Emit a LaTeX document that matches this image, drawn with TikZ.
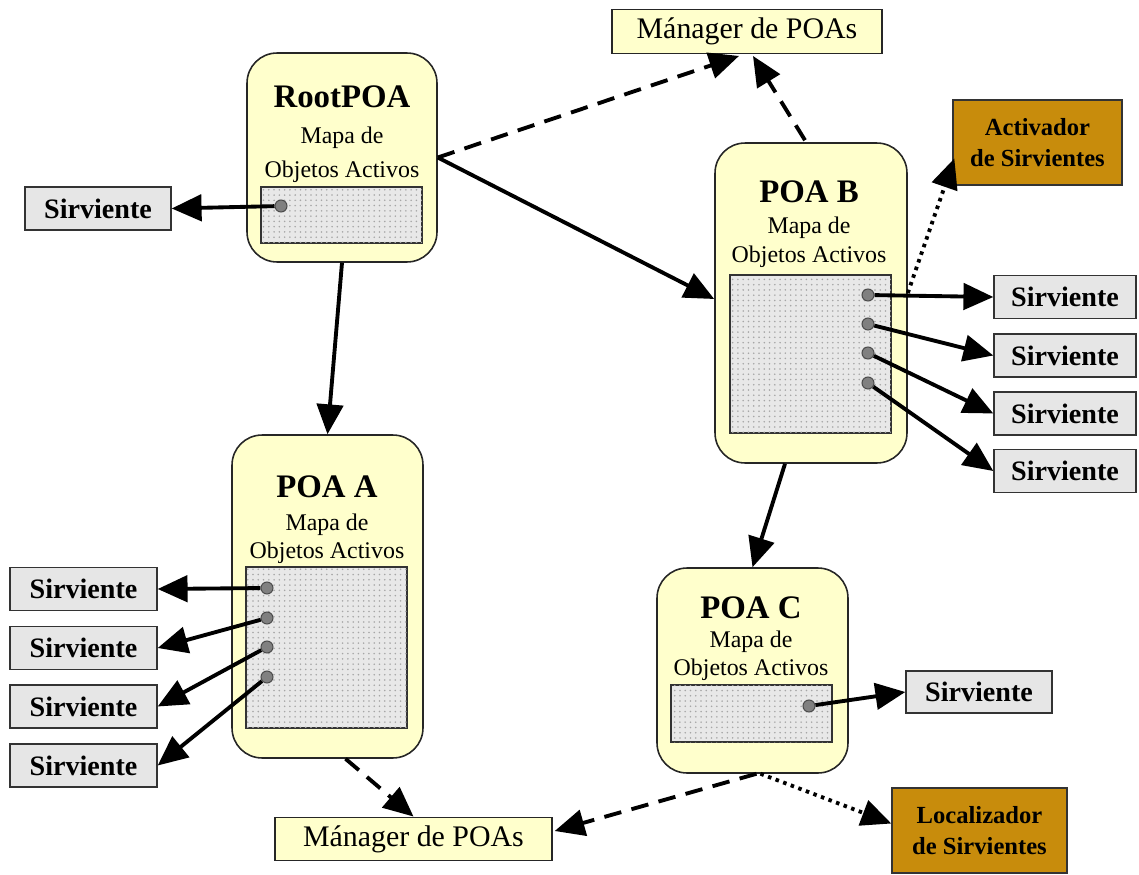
\documentclass[tikz,border=0pt]{standalone}
\usepackage{fontspec}
\setmainfont{Liberation Serif}
\usetikzlibrary{arrows.meta,calc,patterns}
\definecolor{poafill}{RGB}{255,255,204}
\definecolor{srvfill}{RGB}{230,230,230}
\definecolor{goldfill}{RGB}{200,140,12}
\definecolor{mapfill}{RGB}{232,232,232}
\tikzset{
  poa/.style={draw=black!85, line width=0.9pt, fill=poafill, rounded corners=0.6cm, inner sep=0pt},
  mapbox/.style={draw=black!80, line width=0.8pt, fill=mapfill, inner sep=0pt,
    postaction={pattern=dots, pattern color=gray!70}},
  srv/.style={draw=black!80, line width=0.8pt, fill=srvfill, inner sep=0pt,
    minimum height=0.86cm, font=\bfseries\fontsize{16}{19}\selectfont},
  mgr/.style={draw=black!85, line width=0.8pt, fill=poafill, inner sep=0pt,
    minimum height=0.87cm, font=\fontsize{17}{20}\selectfont},
  gold/.style={draw=black!80, line width=0.8pt, fill=goldfill, inner sep=0pt,
    minimum height=1.7cm, align=center, font=\bfseries\fontsize{14}{17.5}\selectfont},
  title/.style={inner sep=0pt, font=\bfseries\fontsize{18.7}{22}\selectfont},
  maptext/.style={inner sep=0pt, font=\fontsize{13.6}{16}\selectfont},
  slot/.style={circle, draw=black!70, line width=0.6pt, fill=gray, inner sep=0pt, minimum size=0.24cm},
  conn/.style={line width=2.2pt, -{Triangle[length=17pt,width=15pt]}},
  dashconn/.style={conn, dash pattern=on 10pt off 6pt},
  dotconn/.style={conn, line width=2.2pt, dash pattern=on 2pt off 2.6pt}
}
\begin{document}
\begin{tikzpicture}[x=0.02cm, y=-0.02cm]
\useasboundingbox (0,0) rectangle (1139,875);

% ---- RootPOA ----
\node[poa, minimum width=3.8cm, minimum height=4.18cm] (root) at (342,157.5) {};
\node[title] (rootT) at (342,97) {RootPOA};
\node[maptext] (rootM1) at (342,138) {Mapa de};
\node[maptext] (rootM2) at (342,172) {Objetos Activos};
\node[mapbox, minimum width=3.22cm, minimum height=1.12cm] (rootMap) at (341.5,215) {};
\node[slot] (dR) at (281,206) {};
\node[srv, minimum width=2.92cm] (srvR) at (98,208.5) {Sirviente};

% ---- POA B ----
\node[poa, minimum width=3.84cm, minimum height=6.4cm] (poaB) at (811,303) {};
\node[title] (poaBT) at (809,192) {POA B};
\node[maptext] (poaBM1) at (809,228) {Mapa de};
\node[maptext] (poaBM2) at (809,257) {Objetos Activos};
\node[mapbox, minimum width=3.22cm, minimum height=3.16cm] (poaBMap) at (810.5,354) {};
\node[slot] (dB1) at (868,295) {};
\node[slot] (dB2) at (868,324) {};
\node[slot] (dB3) at (868,353) {};
\node[slot] (dB4) at (868,383) {};
\node[srv, minimum width=2.84cm] (srvB1) at (1065,297) {Sirviente};
\node[srv, minimum width=2.84cm] (srvB2) at (1065,355.5) {Sirviente};
\node[srv, minimum width=2.84cm] (srvB3) at (1065,413.5) {Sirviente};
\node[srv, minimum width=2.84cm] (srvB4) at (1065,471) {Sirviente};

% ---- POA A ----
\node[poa, minimum width=3.82cm, minimum height=6.46cm] (poaA) at (327.5,596.5) {};
\node[title] (poaAT) at (327,487) {POA A};
\node[maptext] (poaAM1) at (327,525) {Mapa de};
\node[maptext] (poaAM2) at (327,553) {Objetos Activos};
\node[mapbox, minimum width=3.22cm, minimum height=3.22cm] (poaAMap) at (326.5,647.5) {};
\node[slot] (dA1) at (267,588) {};
\node[slot] (dA2) at (267,618) {};
\node[slot] (dA3) at (267,647) {};
\node[slot] (dA4) at (267,677) {};
\node[srv, minimum width=2.94cm] (srvA1) at (83.5,589) {Sirviente};
\node[srv, minimum width=2.94cm] (srvA2) at (83.5,648) {Sirviente};
\node[srv, minimum width=2.94cm] (srvA3) at (83.5,706.5) {Sirviente};
\node[srv, minimum width=2.94cm] (srvA4) at (83.5,765.5) {Sirviente};

% ---- POA C ----
\node[poa, minimum width=3.82cm, minimum height=4.1cm] (poaC) at (752.5,670.5) {};
\node[title] (poaCT) at (751,608) {POA C};
\node[maptext] (poaCM1) at (751,642) {Mapa de};
\node[maptext] (poaCM2) at (751,670) {Objetos Activos};
\node[mapbox, minimum width=3.22cm, minimum height=1.14cm] (poaCMap) at (751.5,713.5) {};
\node[slot] (dC) at (809,706) {};
\node[srv, minimum width=2.92cm, minimum height=0.84cm] (srvC) at (979,692) {Sirviente};

% ---- managers and helpers ----
\node[mgr, minimum width=5.4cm] (mgrTop) at (747,31.5) {Mánager de POAs};
\node[mgr, minimum width=5.54cm] (mgrBot) at (413.5,839) {Mánager de POAs};
\node[gold, minimum width=3.38cm] (act) at (1037.5,142.5) {Activador\\de Sirvientes};
\node[gold, minimum width=3.5cm] (loc) at (979.5,830.5) {Localizador\\de Sirvientes};

% ---- connectors ----
\draw[conn] (dR) -- (srvR.east);
\draw[conn] (root.east) -- ($(poaB.west)+(0,-4)$);
\draw[conn] (root.south) -- (poaA.north);
\draw[conn] ($(poaB.south)+(-26,0)$) -- (poaC.north);

\draw[dashconn] (root.east) -- ($(mgrTop.south)+(-8,2)$);
\draw[dashconn] ($(poaB.north)+(-6,-2)$) -- ($(mgrTop.south)+(6,2)$);
\draw[dashconn] ($(poaA.south)+(18,0)$) -- (mgrBot.north);
\draw[dashconn] ($(poaC.south)+(4,0)$) -- ($(mgrBot.east)+(2,-8)$);

\draw[dotconn] ($(poaB.east)+(0,-10)$) -- ($(act.west)+(2,16)$);
\draw[dotconn] ($(poaC.south)+(8,0)$) -- ($(loc.west)+(0,-7)$);

\draw[conn] (dB1) -- (srvB1.west);
\draw[conn] (dB2) -- (srvB2.west);
\draw[conn] (dB3) -- (srvB3.west);
\draw[conn] (dB4) -- (srvB4.west);

\draw[conn] (dA1) -- (srvA1.east);
\draw[conn] (dA2) -- (srvA2.east);
\draw[conn] (dA3) -- (srvA3.east);
\draw[conn] (dA4) -- (srvA4.east);

\draw[conn] (dC) -- (srvC.west);
\end{tikzpicture}
\end{document}
